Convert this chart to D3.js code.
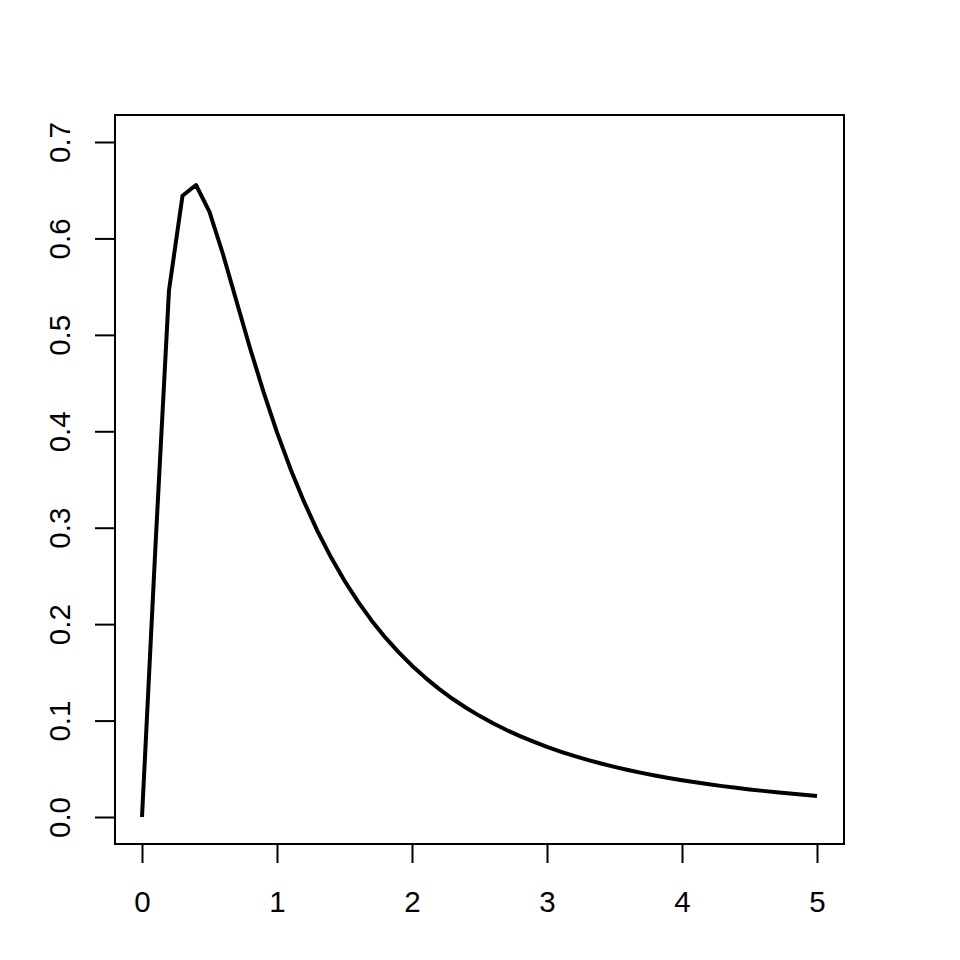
<!DOCTYPE html>
<html>
<head>
<meta charset="utf-8">
<script src="https://cdn.jsdelivr.net/npm/d3@7/dist/d3.min.js"></script>
<style>
  html, body { margin: 0; padding: 0; background: #fff; }
  svg { display: block; }
</style>
</head>
<body>
<script>
// Data
const xValues = [0, 0.1, 0.2, 0.3, 0.4, 0.5, 0.6, 0.7, 0.8, 0.9,
  1.0, 1.1, 1.2, 1.3, 1.4, 1.5, 1.6, 1.7, 1.8, 1.9,
  2.0, 2.1, 2.2, 2.3, 2.4, 2.5, 2.6, 2.7, 2.8, 2.9,
  3.0, 3.1, 3.2, 3.3, 3.4, 3.5, 3.6, 3.7, 3.8, 3.9,
  4.0, 4.1, 4.2, 4.3, 4.4, 4.5, 4.6, 4.7, 4.8, 4.9, 5.0];
const yValues = [0, 0.2816, 0.5463, 0.6442, 0.6554, 0.6275, 0.5836, 0.5348, 0.4864, 0.4408,
  0.3989, 0.3610, 0.3270, 0.2965, 0.2693, 0.2450, 0.2233, 0.2039, 0.1865, 0.1709,
  0.1569, 0.1443, 0.1329, 0.1226, 0.1133, 0.1049, 0.0972, 0.0902, 0.0839, 0.0781,
  0.0727, 0.0679, 0.0634, 0.0593, 0.0555, 0.0520, 0.0488, 0.0458, 0.0431, 0.0405,
  0.0382, 0.0360, 0.0339, 0.0320, 0.0303, 0.0286, 0.0271, 0.0256, 0.0243, 0.0230, 0.0219];
const xTicks = [0, 1, 2, 3, 4, 5];
const yTicks = [0.0, 0.1, 0.2, 0.3, 0.4, 0.5, 0.6, 0.7];

const W = 960, H = 960;
const box = { left: 115, right: 844, top: 115, bottom: 844 };

const svg = d3.select("body").append("svg")
  .attr("width", W).attr("height", H);

const x = d3.scaleLinear().domain([0, 5]).range([142, 817]);
const y = d3.scaleLinear().domain([0, 0.7]).range([817, 142]);

const font = "Arial, 'Liberation Sans', sans-serif";
const fs = 29.5;

// plot box
svg.append("rect")
  .attr("x", box.left).attr("y", box.top)
  .attr("width", box.right - box.left).attr("height", box.bottom - box.top)
  .attr("fill", "none").attr("stroke", "#000").attr("stroke-width", 2);

// x axis
const xAxis = d3.axisBottom(x).tickValues(xTicks).tickSize(19)
  .tickFormat(d3.format("d"));
const gx = svg.append("g").attr("transform", `translate(0,${box.bottom})`).call(xAxis);
gx.select(".domain").remove();
gx.selectAll(".tick line").attr("stroke", "#000").attr("stroke-width", 2);
gx.selectAll(".tick text").attr("font-family", font).attr("font-size", fs)
  .attr("fill", "#000").attr("dy", null).attr("y", 0)
  .attr("transform", "translate(0,68)");

// y axis
const yAxis = d3.axisLeft(y).tickValues(yTicks).tickSize(20).tickFormat(d3.format(".1f"));
const gy = svg.append("g").attr("transform", `translate(${box.left},0)`).call(yAxis);
gy.select(".domain").remove();
gy.selectAll(".tick line").attr("stroke", "#000").attr("stroke-width", 2);
gy.selectAll(".tick text")
  .attr("font-family", font).attr("font-size", fs).attr("fill", "#000")
  .attr("x", 0).attr("dy", null).attr("y", 0)
  .attr("text-anchor", "middle")
  .attr("transform", "translate(-45,0) rotate(-90)");

// curve
const data = xValues.map((v, i) => [v, yValues[i]]);
svg.append("path")
  .datum(data)
  .attr("fill", "none")
  .attr("stroke", "#000")
  .attr("stroke-width", 4)
  .attr("stroke-linejoin", "round")
  .attr("d", d3.line().x(d => x(d[0])).y(d => y(d[1])));
</script>
</body>
</html>
